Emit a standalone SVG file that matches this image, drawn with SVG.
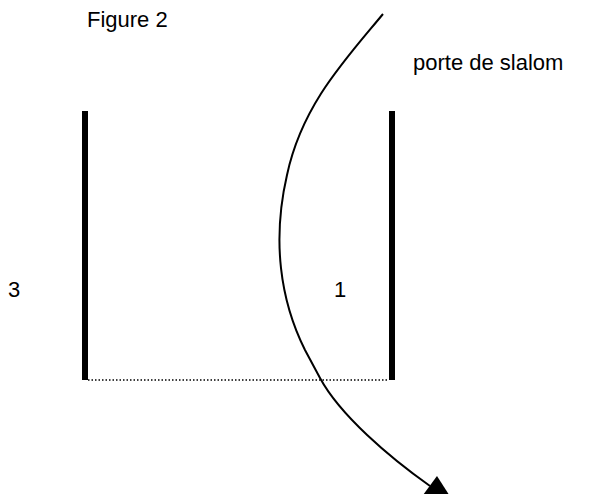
<svg xmlns="http://www.w3.org/2000/svg" width="598" height="494" viewBox="0 0 598 494">
<style>
text{font-family:"Liberation Sans",Arial,sans-serif;font-size:22px;fill:#000}
.bar{stroke:#000;stroke-width:6;fill:none}
.dot{stroke:#000;stroke-width:1.5;stroke-dasharray:1.5 2;fill:none}
.path{stroke:#000;stroke-width:2;fill:none}
</style>
<rect width="598" height="494" fill="#fff"/>
<g id="title"><text x="87" y="27">Figure 2</text></g>
<g id="label"><text x="413" y="70">porte de slalom</text></g>
<g id="gate">
<line class="bar" x1="85" y1="111" x2="85" y2="380"/>
<line class="bar" x1="392" y1="111" x2="392" y2="380"/>
<line class="dot" x1="88" y1="380" x2="389" y2="380"/>
</g>
<g id="n3"><text x="8" y="297">3</text></g>
<g id="n1"><text x="334" y="297">1</text></g>
<g id="connectors">
<path class="path" d="M383,14 C345,60 302,105 287,175 C272,240 280,300 305,350 L320,378 C340,415 389,457 430,486"/>
<polygon points="437,476 422,496.4 455,504.1" fill="#000"/>
</g>
</svg>
